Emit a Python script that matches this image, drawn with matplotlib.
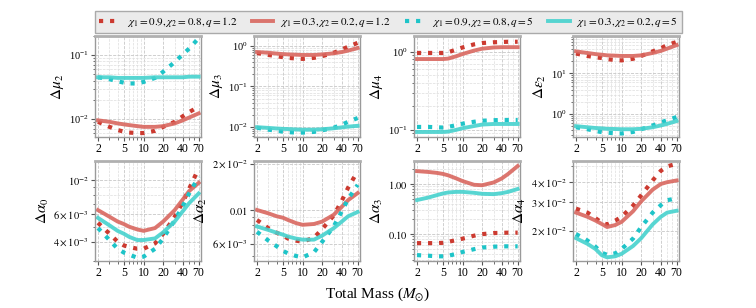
import matplotlib
matplotlib.use("Agg")
import matplotlib.pyplot as plt
from matplotlib.ticker import FixedLocator, FixedFormatter, NullFormatter, LogLocator

plt.rcParams['font.family'] = ['Liberation Serif', 'DejaVu Serif']
plt.rcParams['mathtext.fontset'] = 'stix'

# ---------------- data ----------------
mass = [2, 3, 4, 5, 6, 8, 10, 15, 20, 30, 40, 50, 70]
xticks = [2, 5, 10, 20, 40, 70]

labels = [r'$\chi_1=0.9,\chi_2=0.8,q=1.2$', r'$\chi_1=0.3,\chi_2=0.2,q=1.2$',
          r'$\chi_1=0.9,\chi_2=0.8,q=5$', r'$\chi_1=0.3,\chi_2=0.2,q=5$']

ylabels = [r'$\Delta\mu_2$', r'$\Delta\mu_3$', r'$\Delta\mu_4$', r'$\Delta\varepsilon_2$',
           r'$\Delta\alpha_0$', r'$\Delta\alpha_2$', r'$\Delta\alpha_3$', r'$\Delta\alpha_4$']

# order: red dotted, red solid, cyan dotted, cyan solid
mu2 = [
    [0.009, 0.0075, 0.0067, 0.0063, 0.0061, 0.006, 0.006, 0.0065, 0.0075, 0.009, 0.011, 0.0128, 0.0155],
    [0.0095, 0.009, 0.0085, 0.0082, 0.008, 0.0077, 0.0075, 0.0075, 0.0077, 0.0085, 0.0095, 0.0105, 0.0122],
    [0.045, 0.042, 0.039, 0.037, 0.036, 0.036, 0.038, 0.044, 0.055, 0.078, 0.103, 0.127, 0.185],
    [0.045, 0.045, 0.044, 0.044, 0.044, 0.044, 0.044, 0.045, 0.045, 0.045, 0.045, 0.046, 0.046],
]
mu3 = [
    [0.67, 0.6, 0.56, 0.53, 0.51, 0.49, 0.48, 0.51, 0.56, 0.68, 0.82, 0.96, 1.2],
    [0.71, 0.68, 0.65, 0.63, 0.62, 0.61, 0.6, 0.6, 0.62, 0.66, 0.71, 0.77, 0.89],
    [0.0095, 0.0085, 0.008, 0.0076, 0.0074, 0.0072, 0.0072, 0.0075, 0.0082, 0.0095, 0.0113, 0.0133, 0.0165],
    [0.0098, 0.0094, 0.0091, 0.0089, 0.0088, 0.0086, 0.0085, 0.0085, 0.0087, 0.0092, 0.0097, 0.0101, 0.0106],
]
mu4 = [
    [0.97, 0.97, 0.97, 0.97, 0.99, 1.07, 1.14, 1.25, 1.3, 1.33, 1.34, 1.35, 1.35],
    [0.81, 0.81, 0.81, 0.81, 0.82, 0.88, 0.94, 1.04, 1.1, 1.14, 1.15, 1.15, 1.15],
    [0.109, 0.109, 0.108, 0.107, 0.109, 0.115, 0.12, 0.127, 0.131, 0.133, 0.134, 0.134, 0.134],
    [0.094, 0.094, 0.094, 0.094, 0.095, 0.1, 0.105, 0.112, 0.117, 0.119, 0.119, 0.119, 0.119],
]
eps2 = [
    [31, 27, 25, 24, 22.5, 21.5, 21, 23, 27, 35, 42, 50, 60],
    [35, 32, 30, 29, 28, 27.5, 27, 27, 28, 32, 36, 41, 50],
    [0.47, 0.42, 0.38, 0.355, 0.345, 0.335, 0.33, 0.36, 0.42, 0.52, 0.62, 0.70, 0.84],
    [0.5, 0.47, 0.45, 0.44, 0.43, 0.425, 0.42, 0.42, 0.43, 0.47, 0.52, 0.57, 0.67],
]
alpha0 = [
    [0.0053, 0.0045, 0.0040, 0.00378, 0.0037, 0.0036, 0.0036, 0.0039, 0.0045, 0.0058, 0.0072, 0.0088, 0.0119],
    [0.0064, 0.0058, 0.0054, 0.0052, 0.0050, 0.0048, 0.0047, 0.0049, 0.0054, 0.0064, 0.0075, 0.0085, 0.0096],
    [0.0049, 0.0041, 0.0036, 0.0034, 0.0033, 0.00315, 0.0032, 0.0036, 0.0042, 0.0055, 0.0068, 0.0082, 0.0105],
    [0.0057, 0.0051, 0.0047, 0.0045, 0.0043, 0.0041, 0.0041, 0.0042, 0.0046, 0.0054, 0.0063, 0.0071, 0.0082],
]
alpha2 = [
    [0.0086, 0.0076, 0.0071, 0.0068, 0.0065, 0.0063, 0.0062, 0.0066, 0.0075, 0.0092, 0.0115, 0.014, 0.0179],
    [0.0100, 0.0095, 0.0091, 0.0089, 0.0086, 0.0082, 0.0080, 0.0081, 0.0084, 0.0093, 0.0105, 0.0116, 0.0129],
    [0.0072, 0.0063, 0.0058, 0.0054, 0.0052, 0.0050, 0.0049, 0.0053, 0.0062, 0.0078, 0.0098, 0.0118, 0.0146],
    [0.0078, 0.0074, 0.0071, 0.0069, 0.0067, 0.0065, 0.0064, 0.0064, 0.0068, 0.0076, 0.0084, 0.0091, 0.0097],
]
alpha3 = [
    [0.066, 0.066, 0.066, 0.067, 0.07, 0.076, 0.081, 0.093, 0.1, 0.105, 0.106, 0.107, 0.107],
    [1.82, 1.75, 1.68, 1.6, 1.5, 1.3, 1.15, 0.97, 0.95, 1.08, 1.3, 1.6, 2.3],
    [0.038, 0.037, 0.036, 0.036, 0.037, 0.04, 0.044, 0.05, 0.054, 0.056, 0.057, 0.057, 0.057],
    [0.48, 0.54, 0.6, 0.65, 0.68, 0.7, 0.7, 0.67, 0.64, 0.63, 0.66, 0.7, 0.8],
]
alpha4 = [
    [0.0275, 0.026, 0.024, 0.0225, 0.022, 0.0232, 0.0245, 0.0287, 0.0332, 0.041, 0.047, 0.050, 0.052],
    [0.026, 0.0245, 0.0232, 0.0221, 0.0212, 0.0218, 0.0228, 0.0265, 0.0305, 0.036, 0.039, 0.040, 0.041],
    [0.0192, 0.0175, 0.016, 0.0147, 0.0143, 0.0146, 0.0155, 0.018, 0.0212, 0.026, 0.0289, 0.031, 0.0318],
    [0.0181, 0.0167, 0.0155, 0.0142, 0.0138, 0.014, 0.0145, 0.0162, 0.0181, 0.022, 0.0245, 0.026, 0.0267],
]
panels = [mu2, mu3, mu4, eps2, alpha0, alpha2, alpha3, alpha4]

ylims = [(0.0052, 0.2), (0.0056, 1.77), (0.081, 1.6), (0.27, 84),
         (0.0030, 0.0133), (0.00464, 0.0209), (0.029, 2.9), (0.0131, 0.054)]

# custom y tick labels for bottom row (None = default)
ytick_vals = [None, None, None, None,
              [0.004, 0.006, 0.01], [0.006, 0.01, 0.02], [0.1, 1.0], [0.02, 0.03, 0.04]]
ytick_text = [None, None, None, None,
              [r'$4\times10^{-3}$', r'$6\times10^{-3}$', r'$10^{-2}$'],
              [r'$6\times10^{-3}$', r'$0.01$', r'$2\times10^{-2}$'],
              [r'$0.10$', r'$1.00$'],
              [r'$2\times10^{-2}$', r'$3\times10^{-2}$', r'$4\times10^{-2}$']]

# ---------------- style ----------------
colors = ['#cc3a30', '#d9675f', '#1ec4c8', '#46d2ce']
styles = [':', '-', ':', '-']
lws = [3.0, 2.8, 3.0, 2.8]
alphas = [1.0, 0.9, 1.0, 0.9]

W, H = 756, 308
fig = plt.figure(figsize=(W / 100, H / 100), dpi=100)

lefts = [95, 254, 414, 573]
rows = [(36, 137), (161, 261)]
aw = 106

handles = []
for i, data in enumerate(panels):
    r, c = divmod(i, 4)
    top, bot = rows[r]
    ax = fig.add_axes([lefts[c] / W, 1 - bot / H, aw / W, (bot - top) / H])
    for k in range(4):
        h, = ax.plot(mass, data[k], linestyle=styles[k], color=colors[k],
                     lw=lws[k], alpha=alphas[k], label=labels[k])
        if i == 0:
            handles.append(h)
    ax.set_xscale('log')
    ax.set_yscale('log')
    ax.set_xlim(1.8, 76)
    ax.set_ylim(*ylims[i])
    ax.xaxis.set_major_locator(FixedLocator(xticks))
    ax.xaxis.set_major_formatter(FixedFormatter([str(t) for t in xticks]))
    ax.xaxis.set_minor_formatter(NullFormatter())
    if ytick_vals[i] is not None:
        ax.yaxis.set_major_locator(FixedLocator(ytick_vals[i]))
        ax.yaxis.set_major_formatter(FixedFormatter(ytick_text[i]))
        ax.yaxis.set_minor_locator(LogLocator(base=10, subs=range(1, 10)))
        ax.yaxis.set_minor_formatter(NullFormatter())
    else:
        ax.yaxis.set_minor_formatter(NullFormatter())
    ax.tick_params(axis='x', which='major', labelsize=8.5, length=3, width=0.8,
                   color='#555555', pad=1.5)
    ax.tick_params(axis='y', which='major', labelsize=7.5, length=3, width=0.8,
                   color='#555555', pad=1.5)
    ax.tick_params(axis='both', which='minor', length=1.8, width=0.6, color='#555555')
    ax.grid(True, which='major', linestyle='--', color='#c8c8c8', lw=0.6)
    ax.grid(True, which='minor', linestyle='--', color='#dddddd', lw=0.5)
    ax.set_axisbelow(True)
    for side, sp in ax.spines.items():
        sp.set_color('#9a9a9a')
        sp.set_linewidth(1.0)
    ax.spines['top'].set_linewidth(2.0)
    ax.spines['top'].set_color('#b0b0b0')
    ax.set_ylabel(ylabels[i], fontsize=11, labelpad=2)

leg = fig.legend(handles=handles, labels=labels, loc='center',
                 bbox_to_anchor=((97 + 680) / 2 / W, 1 - 22 / H), ncol=4,
                 fontsize=8, frameon=True, fancybox=False, handlelength=1.9,
                 columnspacing=1.3, borderpad=0.35, handletextpad=0.6)
leg.get_frame().set_facecolor('#ebebeb')
leg.get_frame().set_edgecolor('#aaaaaa')
leg.get_frame().set_alpha(1.0)

fig.text(0.5, 1 - 294 / H, r'Total Mass ($M_{\odot}$)', ha='center', va='center', fontsize=11)

fig.savefig('out.png', dpi=100)
